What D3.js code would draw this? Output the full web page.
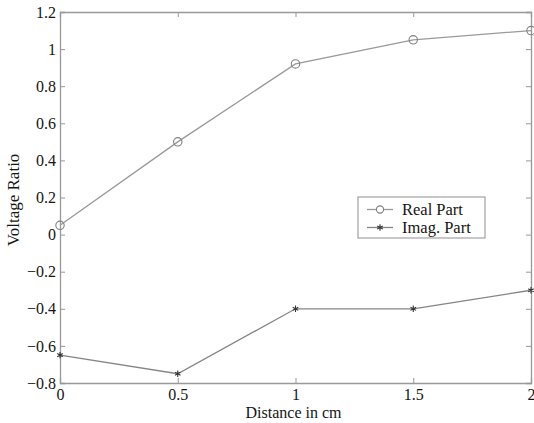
<!DOCTYPE html>
<html>
<head>
<meta charset="utf-8">
<script src="https://cdn.jsdelivr.net/npm/d3@7"></script>
<style>
  body { margin: 0; background: #fff; }
  svg { display: block; }
  text { font-family: "Liberation Serif", "DejaVu Serif", serif; fill: #151515; }
</style>
</head>
<body>
<svg id="chart" width="534" height="423"></svg>
<script>
const distance = [0, 0.5, 1, 1.5, 2]
const realPart = [0.05, 0.5, 0.92, 1.05, 1.1]
const imagPart = [-0.65, -0.75, -0.40, -0.40, -0.30]
const xTicks = [0, 0.5, 1, 1.5, 2]
const yTicks = [-0.8, -0.6, -0.4, -0.2, 0, 0.2, 0.4, 0.6, 0.8, 1, 1.2]

const plotLeft = 60, plotTop = 12, plotRight = 531, plotBottom = 383
const realColor = "#9a9a9a"
const imagColor = "#858585"

const svg = d3.select("#chart")

const x = d3.scaleLinear().domain([0, 2]).range([plotLeft, plotRight])
const y = d3.scaleLinear().domain([-0.8, 1.2]).range([plotBottom, plotTop])

const fmt = d => String(d).replace("-", "\u2212")

// axes, ticks pointing inward on all four sides
const tickLen = 5
svg.append("g")
  .attr("transform", "translate(0," + plotBottom + ")")
  .call(d3.axisBottom(x).tickValues(xTicks).tickSize(-tickLen).tickPadding(6).tickFormat(fmt))
svg.append("g")
  .attr("transform", "translate(0," + plotTop + ")")
  .call(d3.axisTop(x).tickValues(xTicks).tickSize(-tickLen).tickFormat(""))
svg.append("g")
  .attr("transform", "translate(" + plotLeft + ",0)")
  .call(d3.axisLeft(y).tickValues(yTicks).tickSize(-tickLen).tickPadding(4).tickFormat(fmt))
svg.append("g")
  .attr("transform", "translate(" + plotRight + ",0)")
  .call(d3.axisRight(y).tickValues(yTicks).tickSize(-tickLen).tickFormat(""))

svg.selectAll(".domain").attr("stroke", "#999").attr("stroke-width", 1.3)
svg.selectAll(".tick line").attr("stroke", "#999")
svg.selectAll(".tick text")
  .style("font-family", '"Liberation Serif", serif')
  .style("font-size", "16px")
  .attr("fill", "#151515")

const line = d3.line().x(d => x(d[0])).y(d => y(d[1]))

const realPts = distance.map((d, i) => [d, realPart[i]])
const imagPts = distance.map((d, i) => [d, imagPart[i]])

svg.append("path")
  .datum(realPts)
  .attr("d", line)
  .attr("fill", "none")
  .attr("stroke", realColor)
  .attr("stroke-width", 1.3)

svg.append("path")
  .datum(imagPts)
  .attr("d", line)
  .attr("fill", "none")
  .attr("stroke", imagColor)
  .attr("stroke-width", 1.3)

svg.selectAll("circle.real")
  .data(realPts)
  .enter()
  .append("circle")
  .attr("class", "real")
  .attr("cx", d => x(d[0]))
  .attr("cy", d => y(d[1]))
  .attr("r", 4.2)
  .attr("fill", "none")
  .attr("stroke", "#808080")
  .attr("stroke-width", 1.1)

const star = d3.symbol().type(d3.symbolAsterisk).size(28)
svg.selectAll("path.imag")
  .data(imagPts)
  .enter()
  .append("path")
  .attr("class", "imag")
  .attr("d", star)
  .attr("transform", d => "translate(" + x(d[0]) + "," + y(d[1]) + ")")
  .attr("fill", "none")
  .attr("stroke", "#333")
  .attr("stroke-width", 1.1)

// axis titles
svg.append("text")
  .attr("x", (plotLeft + plotRight) / 2 - 2)
  .attr("y", 418)
  .attr("text-anchor", "middle")
  .style("font-size", "16px")
  .text("Distance in cm")

svg.append("text")
  .attr("transform", "translate(19,200) rotate(-90)")
  .attr("text-anchor", "middle")
  .style("font-size", "17px")
  .text("Voltage Ratio")

// legend
const legend = svg.append("g").attr("transform", "translate(358,197)")
legend.append("rect")
  .attr("width", 127)
  .attr("height", 41)
  .attr("fill", "#fff")
  .attr("stroke", "#999")
  .attr("stroke-width", 1.1)

const legendItems = [
  { label: "Real Part", marker: "circle", dy: 12.5 },
  { label: "Imag. Part", marker: "star", dy: 30.5 }
]
legendItems.forEach(item => {
  const g = legend.append("g").attr("transform", "translate(0," + item.dy + ")")
  g.append("line")
    .attr("x1", 9).attr("x2", 35)
    .attr("stroke", item.marker === "circle" ? realColor : imagColor)
    .attr("stroke-width", 1.3)
  if (item.marker === "circle") {
    g.append("circle").attr("cx", 22).attr("r", 3.6)
      .attr("fill", "#fff").attr("stroke", "#808080").attr("stroke-width", 1.1)
  } else {
    g.append("path").attr("d", star).attr("transform", "translate(22,0)")
      .attr("fill", "none").attr("stroke", "#333").attr("stroke-width", 1.1)
  }
  g.append("text")
    .attr("x", 44)
    .attr("y", 5.5)
    .style("font-size", "16.5px")
    .text(item.label)
})
</script>
</body>
</html>
